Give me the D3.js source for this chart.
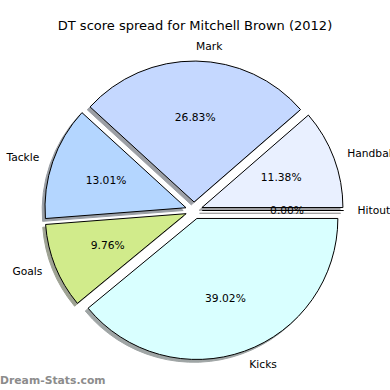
<!DOCTYPE html>
<html>
<head>
<meta charset="utf-8">
<script src="https://cdn.jsdelivr.net/npm/d3@7"></script>
<style>
  body { margin: 0; background: #fff; }
  text { font-family: "DejaVu Sans", sans-serif; }
</style>
</head>
<body>
<div id="root"></div>
<script>
const width = 390
const height = 390

// counter-clockwise from 3 o'clock, like the original
const categories = ['Hitout', 'Handball', 'Mark', 'Tackle', 'Goals', 'Kicks']
const values = [0, 14, 33, 16, 12, 48]
const colors = ['#e4e4e4', '#e9f0ff', '#c5d8ff', '#b4d6ff', '#d1eb8b', '#d9ffff']
const title = 'DT score spread for Mitchell Brown (2012)'

const cx = 194
const cy = 210.5
const radius = 141
const explode = 0.06

const svg = d3.select('#root').append('svg')
  .attr('width', width)
  .attr('height', height)

// data units (pie radius = 1) -> pixels
const sx = d3.scaleLinear().domain([-1, 1]).range([cx - radius, cx + radius])
const sy = d3.scaleLinear().domain([-1, 1]).range([cy + radius, cy - radius])

const pie = d3.pie().sort(null)
  .startAngle(Math.PI / 2)
  .endAngle(Math.PI / 2 - 2 * Math.PI)

const arcs = pie(values)
const total = d3.sum(values)

const arc = d3.arc().innerRadius(0).outerRadius(radius)

// unit vector of a slice's mid angle, in data coords (y up)
const dir = d => {
  const a = (d.startAngle + d.endAngle) / 2
  return [Math.sin(a), Math.cos(a)]
}

const slices = arcs.map((d, i) => {
  const [ux, uy] = dir(d)
  return { d, i, ux, uy, ox: ux * explode, oy: uy * explode }
})

// shadows first, below every wedge
svg.append('g').selectAll('path')
  .data(slices)
  .join('path')
  .attr('transform', s => `translate(${sx(s.ox - 0.02)},${sy(s.oy - 0.02)})`)
  .attr('d', s => arc(s.d))
  .each(function (s) {
    const c = d3.rgb(colors[s.i])
    const sh = d3.rgb(c.r * 0.3, c.g * 0.3, c.b * 0.3)
    d3.select(this)
      .attr('fill', sh)
      .attr('stroke', sh)
      .attr('stroke-width', 1)
      .attr('opacity', 0.5)
  })

svg.append('g').selectAll('path')
  .data(slices)
  .join('path')
  .attr('transform', s => `translate(${sx(s.ox)},${sy(s.oy)})`)
  .attr('d', s => arc(s.d))
  .attr('fill', s => colors[s.i])
  .attr('stroke', '#000')
  .attr('stroke-width', 1)
  .attr('stroke-linejoin', 'round')

// category labels
svg.append('g').selectAll('text')
  .data(slices)
  .join('text')
  .attr('x', s => sx(s.ox + 1.1 * s.ux))
  .attr('y', s => sy(s.oy + 1.1 * s.uy))
  .attr('text-anchor', s => s.ux > 0 ? 'start' : 'end')
  .attr('dominant-baseline', 'central')
  .attr('font-size', 10.7)
  .attr('fill', '#000')
  .text(s => categories[s.i])

// percentages
svg.append('g').selectAll('text')
  .data(slices)
  .join('text')
  .attr('x', s => sx(s.ox + 0.6 * s.ux))
  .attr('y', s => sy(s.oy + 0.6 * s.uy))
  .attr('text-anchor', 'middle')
  .attr('dominant-baseline', 'central')
  .attr('font-size', 10.7)
  .attr('fill', '#000')
  .text(s => (100 * s.d.value / total).toFixed(2) + '%')

svg.append('text')
  .attr('x', 195)
  .attr('y', 25)
  .attr('text-anchor', 'middle')
  .attr('dominant-baseline', 'central')
  .attr('font-size', 13)
  .attr('fill', '#000')
  .text(title)

svg.append('text')
  .attr('x', 0)
  .attr('y', 384)
  .attr('font-size', 10.8)
  .attr('font-weight', 'bold')
  .attr('fill', '#8c8c8c')
  .text('Dream-Stats.com')
</script>
</body>
</html>
